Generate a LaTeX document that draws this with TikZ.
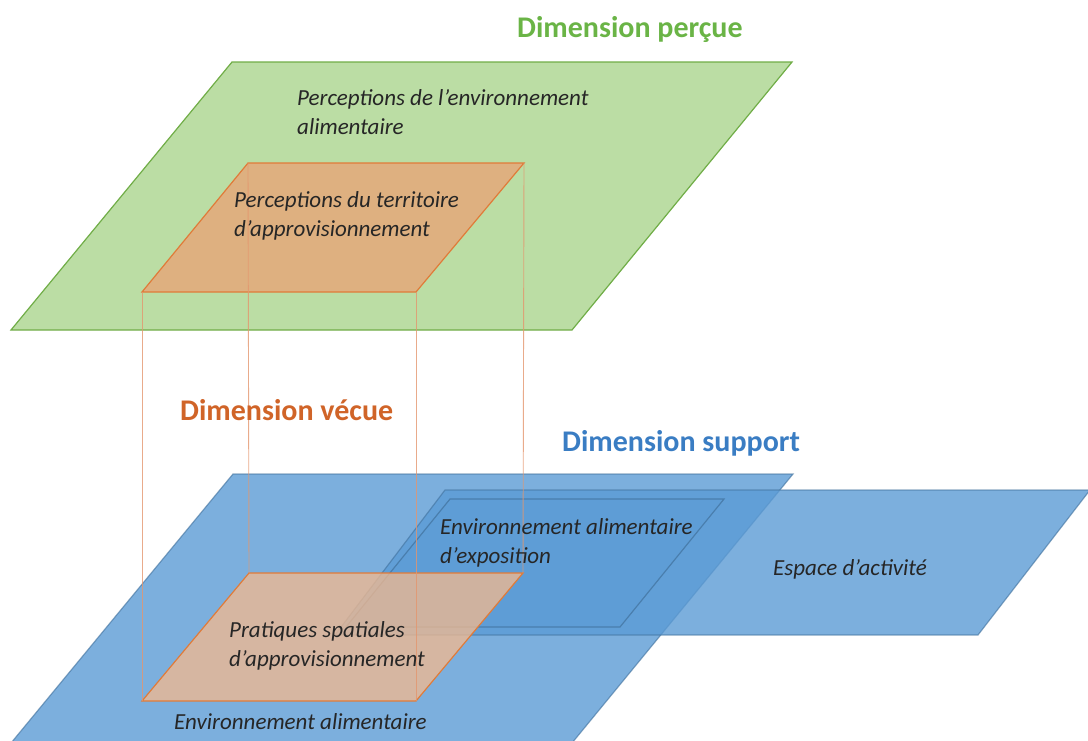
\documentclass[tikz,border=0pt]{standalone}
\usepackage{fontspec}
\setmainfont{Carlito}
\definecolor{gfill}{RGB}{187,221,164}
\definecolor{gline}{RGB}{112,173,71}
\definecolor{gtitle}{RGB}{106,180,70}
\definecolor{ofill}{RGB}{222,176,128}
\definecolor{oline}{RGB}{224,123,57}
\definecolor{obfill}{RGB}{240,185,145}
\definecolor{otitle}{RGB}{208,100,40}
\definecolor{bfill}{RGB}{91,155,213}
\definecolor{bline}{RGB}{65,113,156}
\definecolor{btitle}{RGB}{58,125,195}
\definecolor{vline}{RGB}{228,150,110}
\begin{document}
\begin{tikzpicture}[x=1pt,y=-1pt,
  plane/.style={line width=1.2pt, line join=miter},
  lbl/.style={anchor=base west, inner sep=0pt, font=\fontsize{23}{29}\selectfont\itshape, text=black!85, align=left},
  ttl/.style={anchor=base west, inner sep=0pt, font=\fontsize{30}{34}\selectfont\bfseries},
  edge/.style={draw=vline, line width=0.9pt, opacity=0.8}]
\useasboundingbox (0,0) rectangle (1088,740);
% green plane
\path[plane, fill=gfill, draw=gline] (232,62) -- (792,62) -- (572,330) -- (11,330) -- cycle;
% top orange
\path[plane, fill=ofill, draw=oline] (248,163) -- (524,163) -- (416,292) -- (142,292) -- cycle;
% blue big
\path[plane, fill=bfill, fill opacity=0.8, draw=bline, draw opacity=0.6] (233,474) -- (793,474) -- (572,743) -- (11,743) -- cycle;
% espace d'activite
\path[plane, fill=bfill, fill opacity=0.8, draw=bline, draw opacity=0.6] (445,490) -- (1090,490) -- (978,635) -- (335,635) -- cycle;
% exposition
\path[plane, fill=bfill, fill opacity=0.45, draw=bline, draw opacity=0.7] (450,499) -- (724,499) -- (620,627) -- (346,627) -- cycle;
% bottom orange
\path[plane, fill=obfill, fill opacity=0.78, draw=oline] (249,573) -- (523,573) -- (416,701) -- (142,701) -- cycle;
% vertical edges
\coordinate (t1) at (142,292); \coordinate (b1) at (142,701);
\coordinate (t2) at (248,163); \coordinate (b2) at (249,573);
\coordinate (t3) at (416,292); \coordinate (b3) at (416,701);
\coordinate (t4) at (524,163); \coordinate (b4) at (523,573);
\draw[edge] (t1) -- (b1);
\draw[edge] (t2) -- (b2);
\draw[edge] (t3) -- (b3);
\draw[edge] (t4) -- (b4);
% titles
\node[ttl, text=gtitle] (tp) at (517,37) {Dimension perçue};
\node[ttl, text=otitle] (tv) at (180,420) {Dimension vécue};
\node[ttl, text=btitle] (ts) at (562,451) {Dimension support};
% labels
\node[lbl] (pe) at (297,134) {Perceptions de l’environnement\\alimentaire};
\node[lbl] (pt) at (234,236) {Perceptions du territoire\\d’approvisionnement};
\node[lbl] (ee) at (440,563) {Environnement alimentaire\\d’exposition};
\node[lbl] (ea) at (773,575) {Espace d’activité};
\node[lbl] (ps) at (229,666) {Pratiques spatiales\\d’approvisionnement};
\node[lbl] (en) at (174,729) {Environnement alimentaire};
\end{tikzpicture}
\end{document}
